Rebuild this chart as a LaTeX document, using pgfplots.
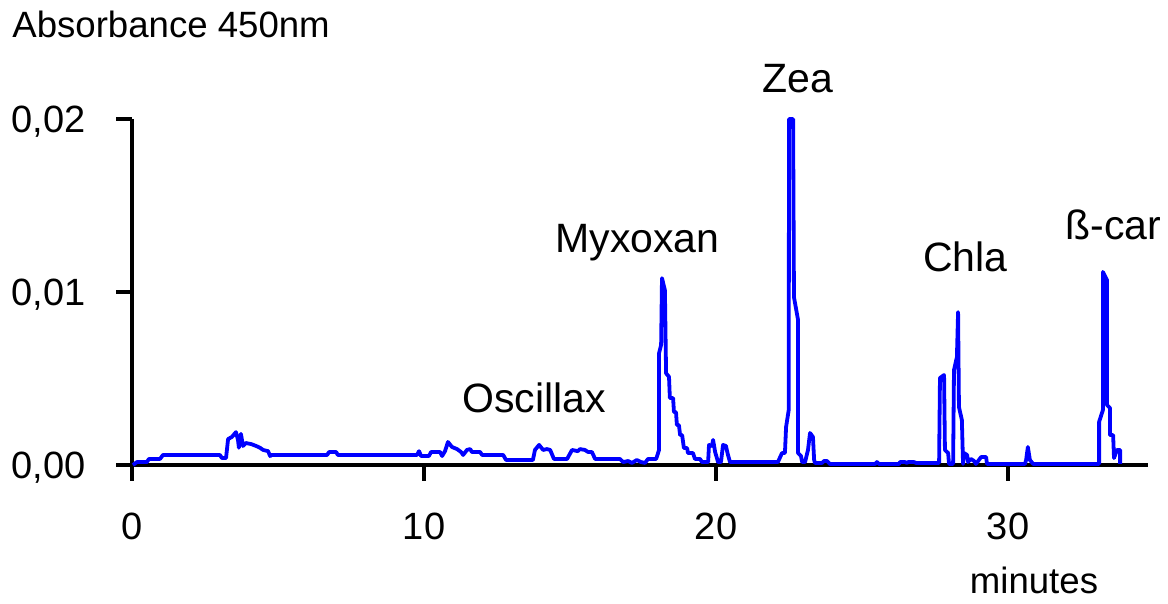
\documentclass[border=0pt]{standalone}
\usepackage{pgfplots}
\pgfplotsset{compat=1.18}
\usepackage{fontspec}
\setmainfont{Liberation Sans}
\definecolor{traceblue}{RGB}{0,0,255}
\begin{document}
\begin{tikzpicture}
\begin{axis}[
  scale only axis, width=515.1bp, height=173bp,
  xmin=-0.48, xmax=34.8, ymin=0, ymax=0.02,
  axis lines=middle,
  axis line style={-, line width=1.8bp, black},
  every inner x axis line/.append style={-},
  every inner y axis line/.append style={-},
  hide obscured x ticks=false, hide obscured y ticks=false,
  scaled y ticks=false, scaled x ticks=false,
  tick align=outside, major tick length=8bp,
  tick style={line width=1.8bp, black},
  xtick={0,10,20,30}, xticklabels={0,10,20,30},
  ytick={0,0.01,0.02}, yticklabels={{0,00},{0,01},{0,02}},
  ticklabel style={font=\fontsize{19bp}{22bp}\selectfont, inner sep=0pt},
  xticklabel style={anchor=north, yshift=-16bp},
  yticklabel style={anchor=base east, xshift=-15bp, yshift=-6.8bp},
  clip=false,
]
\addplot[traceblue, line width=1.9bp, line join=round] coordinates {
(0.03,0.00000) (0.17,0.00017) (0.51,0.00017) (0.58,0.00035) (0.96,0.00035)
(1.06,0.00058) (3.01,0.00058) (3.08,0.00040) (3.22,0.00040) (3.29,0.00150)
(3.42,0.00162) (3.56,0.00190) (3.63,0.00145) (3.66,0.00100) (3.73,0.00180)
(3.80,0.00110) (3.90,0.00127) (4.08,0.00121) (4.25,0.00110) (4.38,0.00100)
(4.49,0.00087) (4.66,0.00080) (4.73,0.00052) (4.79,0.00058) (6.68,0.00058)
(6.75,0.00075) (6.99,0.00075) (7.05,0.00058) (9.76,0.00058) (9.83,0.00080)
(9.90,0.00052) (10.17,0.00052) (10.24,0.00075) (10.55,0.00075) (10.62,0.00052)
(10.72,0.00080) (10.82,0.00133) (10.96,0.00104) (11.13,0.00092) (11.27,0.00075)
(11.34,0.00058) (11.47,0.00087) (11.58,0.00092) (11.64,0.00075) (11.92,0.00075)
(11.99,0.00058) (12.71,0.00058) (12.81,0.00029) (13.73,0.00029) (13.80,0.00087)
(13.94,0.00116) (14.08,0.00087) (14.21,0.00092) (14.32,0.00087) (14.45,0.00035)
(14.90,0.00035) (15.07,0.00087) (15.27,0.00080) (15.34,0.00092) (15.51,0.00087)
(15.62,0.00075) (15.75,0.00075) (15.86,0.00035) (16.71,0.00035) (16.82,0.00017)
(16.99,0.00023) (17.12,0.00012) (17.29,0.00029) (17.43,0.00017) (17.57,0.00012)
(17.67,0.00035) (17.95,0.00035) (18.05,0.00087)
(18.05,0.00647) (18.12,0.00694) (18.15,0.01080) (18.25,0.01010) (18.29,0.00530)
(18.39,0.00510) (18.42,0.00387) (18.53,0.00387) (18.56,0.00306) (18.63,0.00306)
(18.66,0.00231) (18.73,0.00231) (18.77,0.00173) (18.84,0.00173) (18.90,0.00098)
(19.01,0.00098) (19.04,0.00069) (19.21,0.00069) (19.28,0.00035) (19.45,0.00035)
(19.52,0.00017) (19.73,0.00017) (19.76,0.00116) (19.86,0.00110) (19.90,0.00145)
(19.97,0.00075) (20.07,0.00017) (20.17,0.00017) (20.24,0.00116) (20.34,0.00110)
(20.41,0.00058) (20.48,0.00017) (20.58,0.00017)
(22.12,0.00017) (22.26,0.00069) (22.36,0.00069) (22.40,0.00220) (22.49,0.00318)
(22.50,0.02000) (22.64,0.02000) (22.67,0.00970) (22.81,0.00838) (22.81,0.00069)
(22.91,0.00052) (22.95,0.00017) (23.05,0.00017) (23.15,0.00087) (23.22,0.00185)
(23.32,0.00162) (23.36,0.00029) (23.39,0.00012) (23.63,0.00012) (23.70,0.00023)
(23.80,0.00023) (23.90,0.00006) (25.45,0.00006) (25.51,0.00017) (25.58,0.00006)
(26.27,0.00006) (26.30,0.00017) (26.47,0.00017) (26.54,0.00012) (26.58,0.00017)
(26.78,0.00017) (26.85,0.00012) (27.64,0.00012)
(27.67,0.00503) (27.81,0.00520) (27.84,0.00087) (27.95,0.00069) (27.98,0.00006)
(28.12,0.00006) (28.15,0.00549) (28.25,0.00624) (28.29,0.00884) (28.32,0.00335)
(28.42,0.00260) (28.46,0.00006) (28.49,0.00069) (28.60,0.00058) (28.63,0.00017)
(28.73,0.00035) (28.84,0.00023) (28.90,0.00006) (29.08,0.00046) (29.25,0.00046)
(29.28,0.00006) (30.58,0.00006) (30.62,0.00029) (30.68,0.00104) (30.75,0.00029)
(30.86,0.00006) (33.12,0.00006)
(33.12,0.00249) (33.25,0.00318) (33.25,0.01116) (33.39,0.01069) (33.39,0.00347)
(33.49,0.00330) (33.49,0.00173) (33.60,0.00173) (33.63,0.00040) (33.73,0.00087)
(33.84,0.00087) (33.84,0.00006)
};
\node[anchor=base, font=\fontsize{20.5bp}{24bp}\selectfont] at (axis cs:22.79,0.02156) {Zea};
\node[anchor=base, font=\fontsize{20.5bp}{24bp}\selectfont] at (axis cs:17.31,0.01231) {Myxoxan};
\node[anchor=base, font=\fontsize{20.5bp}{24bp}\selectfont] at (axis cs:13.77,0.00301) {Oscillax};
\node[anchor=base, font=\fontsize{20.5bp}{24bp}\selectfont] at (axis cs:28.54,0.01116) {Chla};
\node[anchor=base, font=\fontsize{20.5bp}{24bp}\selectfont] at (axis cs:33.61,0.01301) {ß-car};
\node[anchor=base west, inner sep=0pt, font=\fontsize{18.3bp}{22bp}\selectfont] at (axis cs:-4.11,0.02474) {Absorbance 450nm};
\node[anchor=base, inner sep=0pt, font=\fontsize{18.3bp}{22bp}\selectfont] at (axis cs:30.89,-0.0074) {minutes};
\path (axis cs:-4.521,0.02688) rectangle (axis cs:35.479,-0.008035);
\end{axis}
\end{tikzpicture}
\end{document}
